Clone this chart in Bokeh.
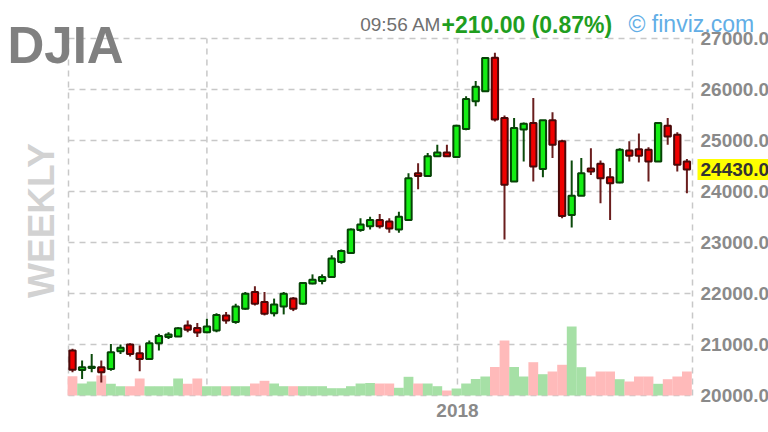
import math
from bokeh.plotting import figure
from bokeh.models import Range1d, ColumnDataSource
from bokeh.core.properties import value
from bokeh.embed import file_html
from bokeh.resources import INLINE

# ---- data (weekly candles) ----
open_ = [20880, 20500, 20540, 20555, 20520, 20870, 21000, 20830, 20715, 21025,
         21145, 21155, 21375, 21325, 21240, 21275, 21570, 21440, 21700, 22030,
         21835, 21615, 21745, 21900, 21800, 22195, 22245, 22325, 22620, 22795,
         23245, 23320, 23440, 23410, 23255, 23440, 24360, 24305, 24690, 24765,
         24675, 25225, 25770, 25965, 26625, 25440, 24195, 25215, 25345, 24440,
         25395, 24985, 23540, 23915, 24450, 24545, 24280, 24175, 24805, 24830,
         24820, 24590, 25290, 25115, 24590]
high_ = [20915, 20685, 20815, 20685, 21010, 21000, 21025, 20980, 21080, 21210,
         21240, 21340, 21470, 21420, 21505, 21615, 21635, 21800, 22030, 22140,
         22030, 21900, 22030, 21930, 22225, 22375, 22375, 22750, 22865, 23275,
         23475, 23505, 23560, 23475, 23605, 24360, 24555, 24755, 24915, 24915,
         25310, 25870, 26165, 26625, 26720, 25490, 25440, 25355, 25835, 25400,
         25555, 25015, 24610, 24655, 24850, 24610, 24460, 24850, 24985, 25135,
         24870, 25345, 25440, 25160, 24635]
low_ = [20455, 20325, 20455, 20255, 20485, 20815, 20765, 20475, 20695, 20880,
        21110, 21145, 21240, 21145, 21220, 21240, 21405, 21405, 21680, 21765,
        21570, 21550, 21590, 21655, 21785, 22180, 22180, 22310, 22585, 22785,
        23210, 23255, 23275, 23190, 23190, 23440, 24045, 24295, 24675, 24675,
        24675, 25200, 25670, 25950, 25375, 23060, 24195, 24590, 24195, 24280,
        24655, 23475, 23295, 23915, 24325, 23770, 23440, 24160, 24590, 24570,
        24195, 24590, 24915, 24390, 23965]
close_ = [20505, 20555, 20565, 20455, 20850, 20935, 20815, 20715, 21025, 21165,
          21195, 21320, 21290, 21235, 21355, 21580, 21470, 21745, 21995, 21800,
          21605, 21785, 21995, 21700, 22205, 22270, 22325, 22685, 22835, 23255,
          23355, 23440, 23320, 23275, 23505, 24260, 24305, 24690, 24765, 24690,
          25290, 25815, 26055, 26620, 25410, 24130, 25245, 25330, 24490, 25395,
          24915, 23520, 23915, 24360, 24390, 24260, 24160, 24820, 24700, 24700,
          24590, 25345, 25080, 24525, 24430]
volume_m = [386, 240, 280, 400, 234, 186, 186, 340, 186, 186,
            186, 340, 234, 340, 186, 186, 186, 186, 186, 240,
            294, 240, 186, 186, 186, 186, 186, 146, 146, 186,
            240, 250, 240, 240, 154, 374, 240, 240, 186, 100,
            140, 240, 330, 380, 570, 1100, 570, 380, 666, 426,
            480, 614, 1380, 566, 380, 480, 480, 326, 280, 380,
            380, 234, 326, 380, 480]

ytick_values = [20000, 21000, 22000, 23000, 24000, 25000, 26000, 27000]
xtick_positions = [14.0, 40.1]
xtick_labels = ["", "2018"]

symbol = "DJIA"
timeframe = "WEEKLY"
time_text = "09:56 AM"
change_text = "+210.00 (0.87%)"
brand_text = "\u00a9 finviz.com"
last_price = close_[-1]

# ---- layout (canvas pixels) ----
W, H = 768, 432
CL, CR, CT, CB = 68, 692, 38, 395          # chart area inside the canvas
PX_PER_BAR = 9.6
X_LEFT = -0.4167
X_RIGHT = X_LEFT + (CR - CL) / PX_PER_BAR
Y0, Y1 = ytick_values[0], ytick_values[-1]
PPU = (CB - CT) / (Y1 - Y0)                 # px per price unit
VOL_PER_PX = 20.0

xs = X_LEFT - CL / PX_PER_BAR
xe = X_LEFT + (W - CL) / PX_PER_BAR
ys = Y0 - (H - CB) / PPU
ye = Y1 + CT / PPU


def dx(cx):
    return xs + cx / PX_PER_BAR


def dy(cy):
    return ye - cy / PPU


p = figure(width=W, height=H, x_range=Range1d(xs, xe), y_range=Range1d(ys, ye),
           output_backend="svg", toolbar_location=None,
           x_axis_location=None, y_axis_location=None, title=None,
           min_border=0)
p.extra_y_ranges = {"vol": Range1d(-(H - CB) * VOL_PER_PX, CB * VOL_PER_PX)}
p.outline_line_color = None
p.xgrid.visible = False
p.ygrid.visible = False

GRID = "#c8c8c8"
DASH = "6 5"

# grid + dashed frame (drawn under everything)
hy = ytick_values
p.segment(x0=[X_LEFT] * len(hy), x1=[X_RIGHT] * len(hy), y0=hy, y1=hy,
          line_color=GRID, line_dash=DASH, line_width=1.5)
vx = [X_LEFT] + xtick_positions + [X_RIGHT]
p.segment(x0=vx, x1=vx, y0=[Y0] * len(vx), y1=[Y1] * len(vx),
          line_color=GRID, line_dash=DASH, line_width=1.5)

idx = list(range(len(close_)))
up = [c >= o for o, c in zip(open_, close_)]
src = ColumnDataSource(dict(
    x=idx, high=high_, low=low_,
    top=[max(o, c) for o, c in zip(open_, close_)],
    bottom=[min(o, c) for o, c in zip(open_, close_)],
    vol=volume_m,
    fill=["#14ee14" if u else "#f00000" for u in up],
    line=["#064406" if u else "#4a0808" for u in up],
    wick=["#0b4a0b" if u else "#6a1e1e" for u in up],
    volfill=["#a6e0a6" if u else "#ffbaba" for u in up],
))

p.vbar(x="x", top="vol", bottom=0, width=1.02, fill_color="volfill",
       line_color=None, y_range_name="vol", source=src)
p.segment(x0="x", y0="low", x1="x", y1="high", line_color="wick",
          line_width=2, source=src)
p.vbar(x="x", top="top", bottom="bottom", width=0.66, fill_color="fill",
       line_color="line", line_width=2, source=src)

FONT = value("Liberation Sans")
AX = "#8a8a8a"

# y tick labels on the right
p.text(x=[dx(CR + 8)] * len(ytick_values), y=ytick_values,
       text=[f"{v:.2f}" for v in ytick_values],
       text_font=FONT, text_font_size="19px", text_font_style="bold",
       text_color=AX, text_baseline="middle", text_align="left")

# last price tag
tag_half = 10.5 / PPU
p.quad(left=[dx(CR + 5)], right=[xe + 1], bottom=[last_price - tag_half],
       top=[last_price + tag_half], fill_color="#ffff00", line_color=None)
p.text(x=[dx(CR + 8)], y=[last_price], text=[f"{last_price:.2f}"],
       text_font=FONT, text_font_size="19px", text_font_style="bold",
       text_color="#333333", text_baseline="middle", text_align="left")

# x tick labels
lab_x = [xp for xp, lab in zip(xtick_positions, xtick_labels) if lab]
lab_t = [lab for lab in xtick_labels if lab]
p.text(x=lab_x, y=[dy(CB + 8)] * len(lab_x), text=lab_t, text_font=FONT,
       text_font_size="19px", text_font_style="bold", text_color=AX,
       text_baseline="top", text_align="center")

# header texts
p.text(x=[dx(7)], y=[dy(45)], text=[symbol], text_font=FONT,
       text_font_size="51px", text_font_style="bold", text_color="#808080",
       text_baseline="alphabetic", text_align="left")
p.text(x=[dx(41)], y=[dy(220)], text=[timeframe], text_font=FONT,
       text_font_size="37px", text_font_style="bold", angle=math.pi / 2,
       text_color="#d2d2d2", text_baseline="alphabetic", text_align="center")
p.text(x=[dx(441)], y=[dy(24)], text=[time_text], text_font=FONT,
       text_font_size="19px", text_color="#707070",
       text_baseline="alphabetic", text_align="right")
p.text(x=[dx(441)], y=[dy(24)], text=[change_text], text_font=FONT,
       text_font_size="23px", text_font_style="bold", text_color="#1f9e1f",
       text_baseline="alphabetic", text_align="left")
p.text(x=[dx(628)], y=[dy(23)], text=[brand_text], text_font=FONT,
       text_font_size="23px", text_color="#62aee6",
       text_baseline="alphabetic", text_align="left")

open("out.html", "w").write(file_html(p, INLINE))
